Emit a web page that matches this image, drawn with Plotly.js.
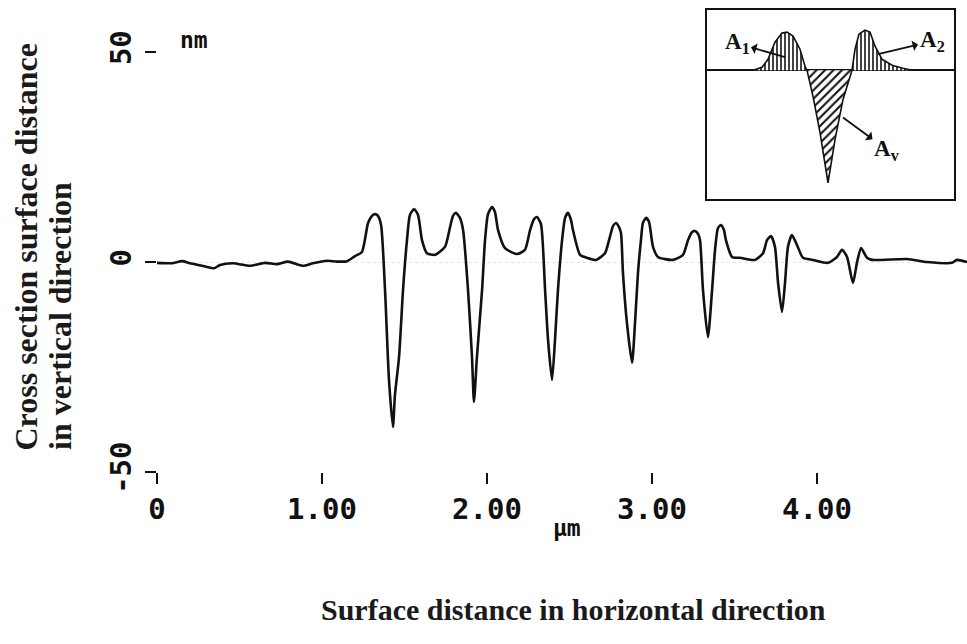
<!DOCTYPE html>
<html><head><meta charset="utf-8">
<script src="https://cdn.plot.ly/plotly-3.0.1.min.js"></script>
<style>html,body{margin:0;padding:0;background:#fff}#chart{width:967px;height:644px}</style>
</head><body><div id="chart"></div>
<script>
// Cross-section profile (x in µm, y in nm)
const profileX = [0.000,0.091,0.152,0.200,0.273,0.345,0.382,0.461,0.564,0.655,0.727,0.794,0.885,0.945,1.030,1.091,1.152,1.200,1.242,
  1.279,1.303,1.321,1.339,1.358,1.382,1.406,1.430,1.442,1.467,1.491,1.515,1.533,1.558,1.582,1.606,1.636,1.685,1.745,1.776,1.794,1.812,1.836,1.855,
  1.885,1.909,1.921,1.939,1.970,1.988,2.006,2.030,2.048,2.067,2.109,2.182,2.230,2.261,2.285,2.303,2.327,2.352,2.370,2.394,2.412,2.430,2.455,
  2.473,2.491,2.509,2.521,2.564,2.606,2.661,2.715,2.745,2.764,2.782,2.800,2.812,2.824,2.848,2.879,2.897,2.915,2.933,2.945,2.964,2.982,3.006,
  3.036,3.127,3.188,3.218,3.242,3.261,3.279,3.291,3.309,3.339,3.364,3.382,3.400,3.418,3.436,3.448,3.485,3.533,3.624,3.673,3.697,3.721,3.745,
  3.764,3.788,3.806,3.824,3.848,3.879,3.915,3.976,4.067,4.121,4.152,4.182,4.218,4.242,4.267,4.303,4.333,4.545,4.667,4.818,4.848,4.909];
const profileY = [-0.2,-0.3,0.2,-0.3,-0.9,-1.5,-0.7,-0.3,-0.9,-0.2,-0.5,0.1,-0.9,-0.3,0.3,0.1,0.2,1.4,2.4,
  9.3,11.0,11.4,11.0,8.8,-6.7,-28.1,-39.3,-31.7,-22.6,-6.7,5.2,11.2,12.6,11.2,5.2,2.1,1.7,3.6,8.3,11.0,11.7,10.5,7.6,
  -6.7,-22.6,-33.3,-22.6,-6.7,5.2,11.4,13.1,11.9,7.6,3.3,1.9,2.9,7.6,10.2,10.7,9.0,-6.7,-18.6,-28.1,-18.6,-6.7,5.2,
  10.5,11.7,10.0,7.6,1.7,1.0,0.5,2.1,6.0,8.6,9.3,8.3,6.9,-2.6,-14.5,-24.0,-14.5,-2.6,5.2,9.3,10.5,9.5,3.6,
  1.2,0.5,1.7,5.2,7.1,7.4,6.7,5.2,-6.7,-17.9,-6.7,2.9,8.1,8.8,7.6,5.2,1.2,1.0,0.5,2.1,5.2,6.2,3.6,
  -5.0,-11.9,-5.0,3.6,6.4,4.0,1.0,0.5,-0.2,1.2,2.9,1.2,-5.0,-0.2,3.3,1.0,0.5,0.7,0.0,-0.2,0.5,0.0];

const xTickVals = [0, 1, 2, 3, 4];
const xTickText = ['0', '1.00', '2.00', '3.00', '4.00'];
const yTickVals = [-50, 0, 50];
const yTickText = ['-50', '0', '50'];

// Inset schematic (arbitrary units)
const insetA1X = [1.862,2.227,2.470,2.753,3.036,3.239,3.482,3.765,3.968,4.049];
const insetA1Y = [0,0.05,0.183,0.467,0.617,0.633,0.567,0.35,0.067,0];
const insetAvX = [4.049,4.291,4.575,4.899,5.182,5.506,5.870];
const insetAvY = [0,-0.433,-1.033,-1.867,-1.15,-0.483,0];
const insetA2X = [5.870,5.992,6.154,6.397,6.599,6.802,7.085,7.490,7.935,8.300];
const insetA2Y = [0,0.35,0.6,0.667,0.633,0.4,0.183,0.083,0.033,0];

const ink = '#111';
const tickFont = {family: 'DejaVu Sans Mono', size: 29, color: ink, weight: 'bold'};
const unitFont = {family: 'DejaVu Sans Mono', size: 23, color: ink, weight: 'bold'};
const serif = 'Liberation Serif';
const titleFont = {family: serif, size: 32, color: '#1a1a1a', weight: 'bold'};
const xTitleFont = {family: serif, size: 30, color: '#1a1a1a', weight: 'bold'};

const traces = [
  {x: profileX, y: profileY, type: 'scatter', mode: 'lines', line: {color: ink, width: 2.6, shape: 'spline', smoothing: 0.6},
   xaxis: 'x', yaxis: 'y', hoverinfo: 'skip'},
  {x: insetA1X, y: insetA1Y, type: 'scatter', mode: 'lines', fill: 'tozeroy', fillcolor: 'white',
   fillpattern: {shape: '|', fgcolor: ink, bgcolor: 'white', size: 4, solidity: 0.4},
   line: {color: ink, width: 1.6}, xaxis: 'x2', yaxis: 'y2', hoverinfo: 'skip'},
  {x: insetAvX, y: insetAvY, type: 'scatter', mode: 'lines', fill: 'tozeroy', fillcolor: 'white',
   fillpattern: {shape: '/', fgcolor: ink, bgcolor: 'white', size: 6, solidity: 0.35},
   line: {color: ink, width: 1.6}, xaxis: 'x2', yaxis: 'y2', hoverinfo: 'skip'},
  {x: insetA2X, y: insetA2Y, type: 'scatter', mode: 'lines', fill: 'tozeroy', fillcolor: 'white',
   fillpattern: {shape: '|', fgcolor: ink, bgcolor: 'white', size: 4, solidity: 0.4},
   line: {color: ink, width: 1.6}, xaxis: 'x2', yaxis: 'y2', hoverinfo: 'skip'}
];

const insetLabelFont = {family: serif, size: 23, color: ink, weight: 'bold'};
const arrowStyle = {showarrow: true, arrowside: 'start', arrowhead: 2, arrowsize: 2.3, arrowwidth: 1.8, arrowcolor: ink};

const layout = {
  width: 967, height: 644,
  margin: {l: 157, r: 0, t: 10, b: 172},
  paper_bgcolor: 'white', plot_bgcolor: 'white',
  showlegend: false, hovermode: false,
  xaxis: {
    range: [0, 4.909], tickvals: xTickVals, ticktext: xTickText,
    ticks: 'outside', ticklen: 11, tickwidth: 1.5, tickcolor: ink,
    tickfont: tickFont, showgrid: false, zeroline: false, showline: false,
    ticklabelstandoff: 0
  },
  yaxis: {
    domain: [0, 0.90909], range: [-50, 50], tickvals: yTickVals, ticktext: yTickText,
    ticks: 'outside', ticklen: 11, tickwidth: 2, tickcolor: ink, tickangle: -90,
    tickfont: tickFont, showgrid: true, gridcolor: '#e4e4e4', griddash: 'dot', gridwidth: 1,
    zeroline: false, showline: false, ticklabelstandoff: 2
  },
  xaxis2: {
    domain: [0.679, 0.984], anchor: 'y2', range: [0, 10],
    showline: true, mirror: true, linecolor: ink, linewidth: 2,
    showticklabels: false, ticks: '', showgrid: false, zeroline: false
  },
  yaxis2: {
    domain: [0.591, 1.0], anchor: 'x2', range: [-2.133, 1.0],
    showline: true, mirror: true, linecolor: ink, linewidth: 2,
    showticklabels: false, ticks: '', showgrid: false,
    zeroline: true, zerolinecolor: ink, zerolinewidth: 2
  },
  annotations: [
    {xref: 'paper', yref: 'paper', x: 0.026, y: 0.967, text: 'nm', showarrow: false, font: unitFont},
    {xref: 'paper', yref: 'paper', x: 0.506, y: -0.154, text: 'µm', showarrow: false, font: unitFont},
    {xref: 'paper', yref: 'paper', x: 0.5148, y: -0.3377, text: 'Surface distance in horizontal direction', showarrow: false,
     font: xTitleFont},
    {xref: 'paper', yref: 'paper', x: -0.1605, y: 0.0433, xanchor: 'center', yanchor: 'bottom', textangle: -90,
     text: 'Cross section surface distance', showarrow: false, font: titleFont},
    {xref: 'paper', yref: 'paper', x: -0.1198, y: 0.0433, xanchor: 'center', yanchor: 'bottom', textangle: -90,
     text: 'in vertical direction', showarrow: false, font: titleFont},
    Object.assign({xref: 'x2', yref: 'y2', x: 3.158, y: 0.217, axref: 'x2', ayref: 'y2', ax: 1.215, ay: 0.45,
     text: 'A<sub>1</sub>', font: insetLabelFont}, arrowStyle),
    Object.assign({xref: 'x2', yref: 'y2', x: 6.923, y: 0.267, axref: 'x2', ayref: 'y2', ax: 9.109, ay: 0.483,
     text: 'A<sub>2</sub>', font: insetLabelFont}, arrowStyle),
    Object.assign({xref: 'x2', yref: 'y2', x: 5.506, y: -0.783, axref: 'x2', ayref: 'y2', ax: 7.287, ay: -1.317,
     text: 'A<sub>v</sub>', font: insetLabelFont}, arrowStyle)
  ]
};

Plotly.newPlot('chart', traces, layout, {displayModeBar: false, staticPlot: true});
</script>
</body></html>
